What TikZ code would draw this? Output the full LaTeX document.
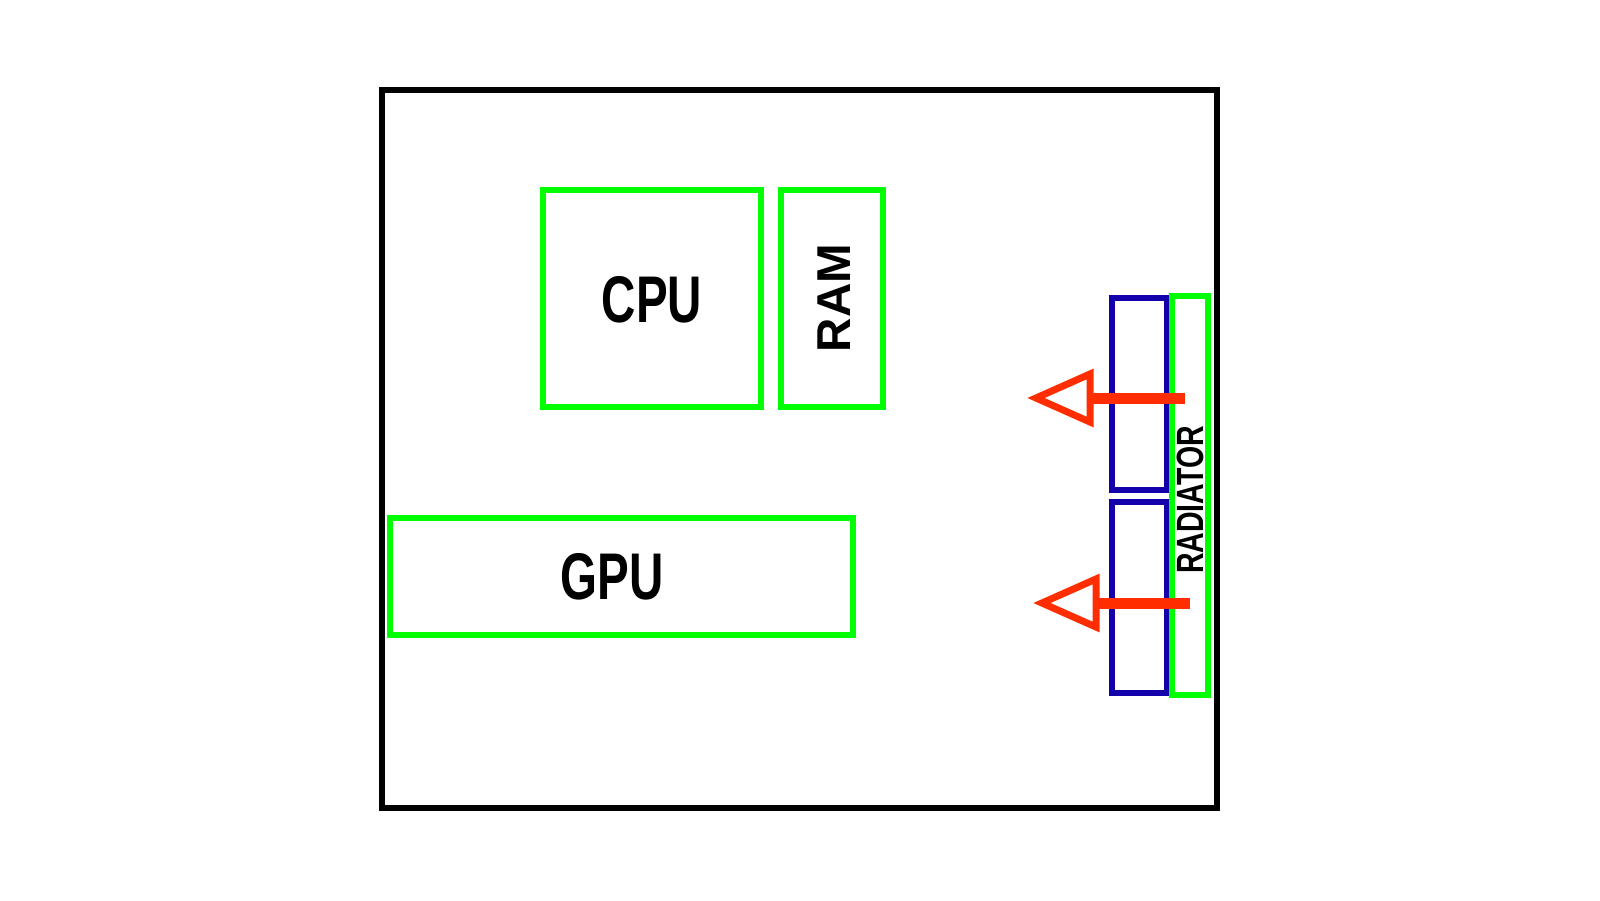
\documentclass[tikz,border=0pt]{standalone}
\usepackage{fontspec}
\setmainfont{Liberation Sans}
\begin{document}
\begin{tikzpicture}[x=1pt,y=-1pt,
  part/.style={draw=green!90!black, draw={rgb,255:red,0;green,255;blue,0}, line width=6pt},
  fan/.style={draw={rgb,255:red,20;green,0;blue,170}, line width=6pt},
  lbl/.style={font=\fontsize{66}{66}\selectfont\bfseries, xscale=0.72},
  flow/.style={draw={rgb,255:red,255;green,45;blue,0}, line width=11pt},
  head/.style={draw={rgb,255:red,255;green,45;blue,0}, line width=7pt, fill=white, line join=miter}]
\useasboundingbox (0,0) rectangle (1600,900);
\draw[line width=6pt] (382,90) rectangle (1217,808);
\draw[part] (543,190) rectangle (761,407);
\node[lbl] (cpu) at (652,300) {CPU};
\draw[part] (781,190) rectangle (883,407);
\node[lbl, rotate=90, xscale=1] (ram) at (834,298) {\scalebox{0.72}[1]{RAM}};
\draw[part] (390,518) rectangle (853,635);
\node[lbl] (gpu) at (612,577) {GPU};
\draw[fan] (1112,298) rectangle (1167,490);
\draw[fan] (1112,502) rectangle (1167,693);
\draw[part] (1172,296) rectangle (1208,695);
\node[font=\fontsize{38}{38}\selectfont\bfseries, rotate=90] (rad) at (1190,500) {\scalebox{0.75}[1]{RADIATOR}};
\coordinate (t1) at (1185,398); \coordinate (b1) at (1088,398);
\coordinate (t2) at (1190,603); \coordinate (b2) at (1094,603);
\draw[flow] (t1) -- (b1);
\draw[head] (1090,374) -- (1090,422) -- (1036,398) -- cycle;
\draw[flow] (t2) -- (b2);
\draw[head] (1096,579) -- (1096,627) -- (1042,603) -- cycle;
\end{tikzpicture}
\end{document}
